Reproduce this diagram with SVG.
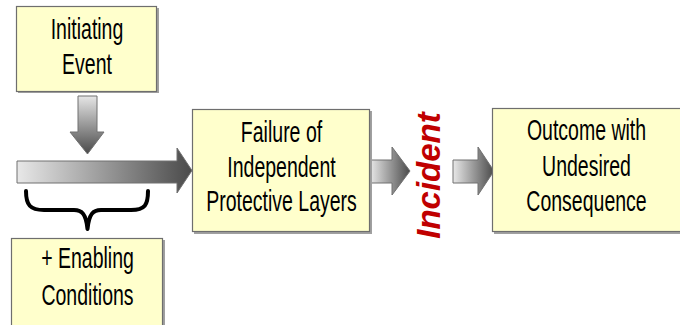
<svg xmlns="http://www.w3.org/2000/svg" width="680" height="325" viewBox="0 0 680 325">
  <defs>
    <linearGradient id="gradDown" x1="0" y1="0" x2="0" y2="1">
      <stop offset="0" stop-color="#e6e6e6"/>
      <stop offset="1" stop-color="#4a4a4a"/>
    </linearGradient>
    <linearGradient id="gradRight" x1="0" y1="0" x2="1" y2="0">
      <stop offset="0" stop-color="#e8e8e8"/>
      <stop offset="1" stop-color="#4a4a4a"/>
    </linearGradient>
    <style>
      .box { fill: #ffffcc; stroke: #6e6e6e; stroke-width: 1.2; }
      .shadow { fill: #a0a0a0; }
      /* condensed sans: regular face squeezed horizontally */
      .label { font-family: "Liberation Sans", Arial, sans-serif; font-size: 30px; fill: #000; text-anchor: middle; }
      .arrow { stroke: #707070; stroke-width: 1; }
      .incident { font-family: "Liberation Sans", Arial, sans-serif; font-size: 33px; font-weight: bold; font-style: italic; fill: #c00000; text-anchor: middle; }
    </style>
  </defs>

  <!-- Connectors: block arrows and brace -->
  <g id="connectors">
    <!-- down arrow from initiating event -->
    <path class="arrow" fill="url(#gradDown)" d="M78,96 H97 V132 H104 L87.5,154 L70,132 H78 Z"/>
    <!-- long horizontal arrow -->
    <path class="arrow" fill="url(#gradRight)" d="M17,161 H177 V148 L192,170.5 L177,193 V183 H17 Z"/>
    <!-- arrow into incident -->
    <path class="arrow" fill="url(#gradRight)" d="M370,160 H392 V147 L410,171 L392,195 V183 H370 Z"/>
    <!-- arrow out of incident -->
    <path class="arrow" fill="url(#gradRight)" d="M453,160 H478 V147 L494,171 L478,195 V183 H453 Z"/>
    <!-- brace grouping the conditions -->
    <path d="M26,191 C26,205 30,210 44,210 H74 C82,210 86,214 87.5,229 C89,214 93,210 101,210 H131 C145,210 148,205 148,191" fill="none" stroke="#000" stroke-width="4" stroke-linecap="round" stroke-linejoin="round"/>
  </g>

  <g id="initiating-event">
    <rect class="shadow" x="18" y="8" width="141" height="85"/>
    <rect class="box" x="16.5" y="6.5" width="140" height="85"/>
    <text class="label" transform="translate(87,39) scale(0.65,1)">Initiating</text>
    <text class="label" transform="translate(87,74) scale(0.65,1)">Event</text>
  </g>

  <g id="enabling-conditions">
    <rect class="shadow" x="13" y="240" width="152" height="90"/>
    <rect class="box" x="11.5" y="238.5" width="151" height="90"/>
    <text class="label" transform="translate(87.5,268) scale(0.65,1)">+ Enabling</text>
    <text class="label" transform="translate(87.5,305) scale(0.65,1)">Conditions</text>
  </g>

  <g id="ipl-failure">
    <rect class="shadow" x="194" y="111" width="178" height="123"/>
    <rect class="box" x="192.5" y="109.5" width="177" height="122"/>
    <text class="label" transform="translate(281.5,142) scale(0.65,1)">Failure of</text>
    <text class="label" transform="translate(281.5,177) scale(0.65,1)">Independent</text>
    <text class="label" transform="translate(281.5,211) scale(0.65,1)">Protective Layers</text>
  </g>

  <g id="incident">
    <text class="incident" transform="translate(440,175.5) rotate(-90)">Incident</text>
  </g>

  <g id="outcome">
    <rect class="shadow" x="494" y="110" width="190" height="124"/>
    <rect class="box" x="492.5" y="108.5" width="190" height="123"/>
    <text class="label" transform="translate(586.5,140) scale(0.65,1)">Outcome with</text>
    <text class="label" transform="translate(586.5,176) scale(0.65,1)">Undesired</text>
    <text class="label" transform="translate(586.5,211) scale(0.65,1)">Consequence</text>
  </g>
</svg>
